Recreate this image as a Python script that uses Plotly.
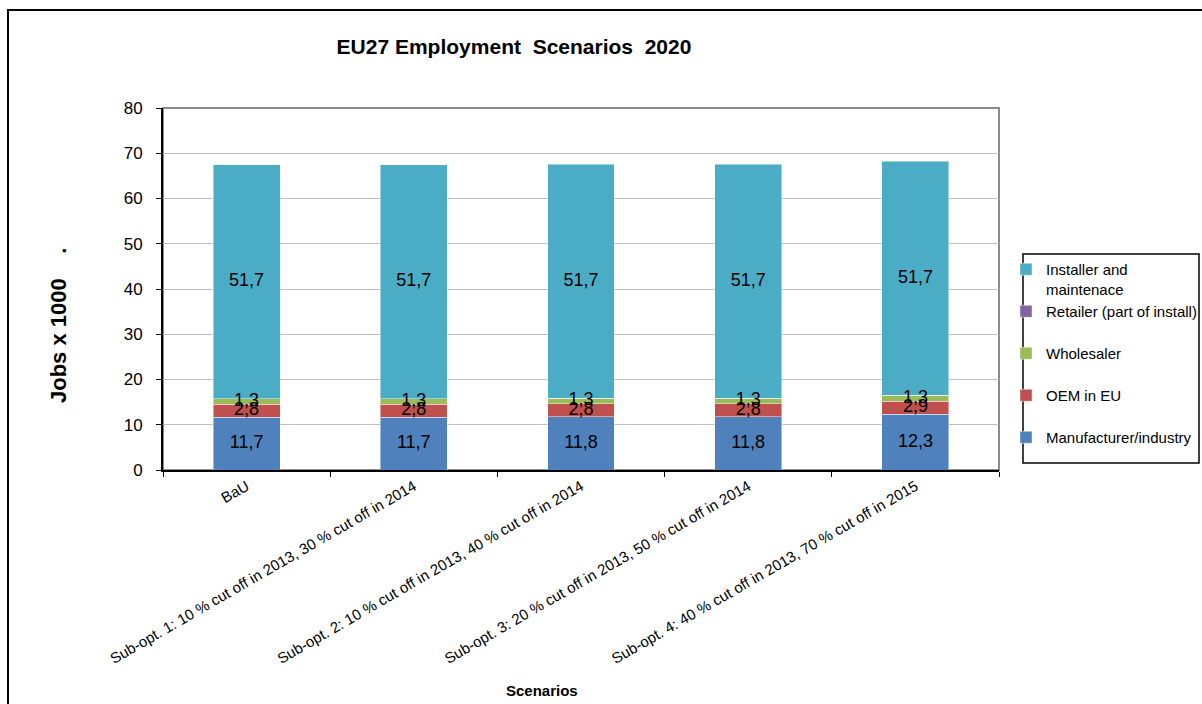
import plotly.graph_objects as go

# Scenario categories on the x axis
scenarios = [
    "BaU",
    "Sub-opt. 1: 10 % cut off in 2013, 30 % cut off in 2014",
    "Sub-opt. 2: 10 % cut off in 2013, 40 % cut off in 2014",
    "Sub-opt. 3: 20 % cut off in 2013, 50 % cut off in 2014",
    "Sub-opt. 4: 40 % cut off in 2013, 70 % cut off in 2015",
]

# Jobs x 1000 per segment, bottom to top of each stack
manufacturer = [11.7, 11.7, 11.8, 11.8, 12.3]
oem = [2.8, 2.8, 2.8, 2.8, 2.9]
wholesaler = [1.3, 1.3, 1.3, 1.3, 1.3]
retailer = [0.0, 0.0, 0.0, 0.0, 0.0]
installer = [51.7, 51.7, 51.7, 51.7, 51.7]

y_ticks = [0, 10, 20, 30, 40, 50, 60, 70, 80]

FONT = "Liberation Sans, Arial, sans-serif"
BLANK_LINE = "<br>\u00a0"  # keeps every legend entry two lines tall

# name, values, colour, show value labels, legend rank (top first)
series = [
    ("Manufacturer/industry" + BLANK_LINE, manufacturer, "#4F81BD", True, 5),
    ("OEM in EU" + BLANK_LINE, oem, "#C0504D", True, 4),
    ("Wholesaler" + BLANK_LINE, wholesaler, "#9BBB59", True, 3),
    ("Retailer (part of install)" + BLANK_LINE, retailer, "#8064A2", False, 2),
    ("Installer and<br>maintenace", installer, "#4BACC6", True, 1),
]

fig = go.Figure()
for i, (name, vals, color, labelled, rank) in enumerate(series):
    fig.add_trace(go.Bar(
        x=scenarios,
        y=vals,
        name=name,
        legendgroup=f"g{i}",
        legendrank=rank,
        marker=dict(color=color, line=dict(color="rgba(255,255,255,0.45)", width=1)),
        width=0.4,
    ))

# Value labels drawn above all bar segments, at the middle of each segment
base = [0.0] * len(scenarios)
for name, vals, color, labelled, rank in series:
    mids = [b + v / 2 for b, v in zip(base, vals)]
    if labelled:
        fig.add_trace(go.Scatter(
            x=scenarios,
            y=mids,
            mode="text",
            text=[f"{v:.1f}".replace(".", ",") for v in vals],
            textposition="middle center",
            textfont=dict(family=FONT, size=18, color="black"),
            showlegend=False,
            hoverinfo="skip",
            cliponaxis=False,
        ))
    base = [b + v for b, v in zip(base, vals)]

fig.update_layout(
    barmode="stack",
    width=1202,
    height=704,
    margin=dict(l=163, r=203, t=108, b=234, autoexpand=False),
    paper_bgcolor="white",
    plot_bgcolor="white",
    font=dict(family=FONT, color="black"),
    showlegend=True,
    legend=dict(
        x=(1006 - 163) / 836, y=(470 - 253) / 362, xanchor="left", yanchor="top",
        traceorder="grouped",
        tracegroupgap=0,
        borderwidth=0,
        bgcolor="rgba(0,0,0,0)",
        font=dict(family=FONT, size=15, color="black"),
        valign="top",
        itemwidth=30,
    ),
    title=dict(
        text="<b>EU27 Employment  Scenarios  2020</b>",
        x=514 / 1202, xref="container", xanchor="center",
        y=1 - 47 / 704, yref="container", yanchor="middle",
        font=dict(family=FONT, size=21, color="black"),
    ),
    xaxis=dict(
        showline=True, linecolor="black", linewidth=2,
        ticks="outside", ticklen=5, tickcolor="black", tickwidth=1,
        tickson="boundaries",
        tickangle=-30,
        tickfont=dict(family=FONT, size=15, color="black"),
        showgrid=False,
    ),
    yaxis=dict(
        range=[0, 80], tickvals=y_ticks,
        showline=True, linecolor="black", linewidth=2,
        ticks="outside", ticklen=5, tickcolor="black", tickwidth=1,
        ticklabelstandoff=10,
        tickfont=dict(family=FONT, size=17, color="black"),
        showgrid=True, gridcolor="#c0c0c0", gridwidth=1,
        zeroline=False,
    ),
    shapes=[
        # plot area outline (grey top and right edges)
        dict(type="rect", xref="paper", yref="paper", x0=0, x1=1, y0=0, y1=1,
             line=dict(color="#8c8c8c", width=2), layer="below"),
        # outer chart frame
        dict(type="rect", xref="paper", yref="paper",
             x0=(8 - 163) / 836, x1=(1230 - 163) / 836,
             y0=(470 - 740) / 362, y1=(470 - 10) / 362,
             line=dict(color="black", width=2), layer="below"),
        # legend box
        dict(type="rect", xref="paper", yref="paper",
             x0=(1023 - 163) / 836, x1=(1199 - 163) / 836,
             y0=(470 - 463) / 362, y1=(470 - 254) / 362,
             line=dict(color="black", width=1.5), layer="below"),
    ],
    annotations=[
        dict(text="<b>Jobs x 1000\u00a0\u00a0\u00a0\u00a0.</b>",
             textangle=-90, xref="paper", yref="paper",
             x=(58 - 163) / 836, y=(470 - 326) / 362,
             xanchor="center", yanchor="middle", showarrow=False,
             font=dict(family=FONT, size=22, color="black")),
        dict(text="<b>Scenarios</b>", xref="paper", yref="paper",
             x=(542 - 163) / 836, y=(470 - 690) / 362,
             xanchor="center", yanchor="middle", showarrow=False,
             font=dict(family=FONT, size=15, color="black")),
    ],
)

fig.write_html("out.html")
